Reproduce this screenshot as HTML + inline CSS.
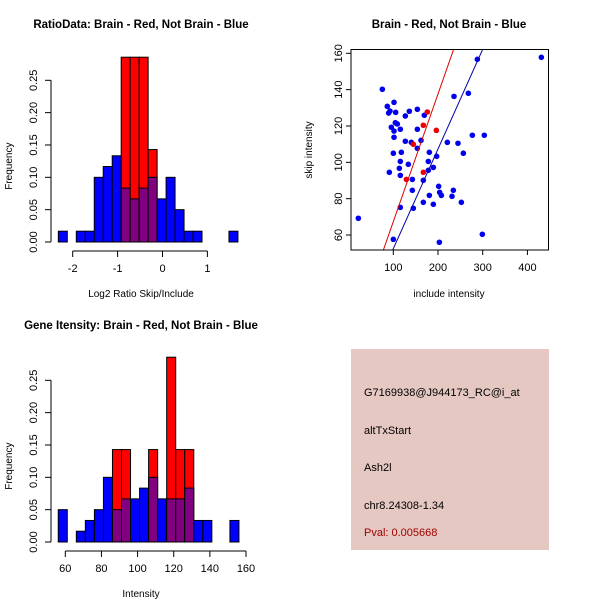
<!DOCTYPE html>
<html><head><meta charset="utf-8"><style>
body{margin:0;background:#fff}
svg{display:block;font-family:"Liberation Sans",sans-serif}
</style></head><body>
<svg id="c" width="600" height="600" viewBox="0 0 600 600">
<rect width="600" height="600" fill="#fff"/>
<g>
<rect x="351" y="349" width="198" height="201" fill="#e6c8c2"/>
<text x="364" y="396" font-size="11" fill="#000">G7169938@J944173_RC@i_at</text>
<text x="364" y="434" font-size="11" fill="#000">altTxStart</text>
<text x="364" y="471" font-size="11" fill="#000">Ash2l</text>
<text x="364" y="509" font-size="11" fill="#000">chr8.24308-1.34</text>
<text x="364" y="536" font-size="11" fill="#a00000">Pval: 0.005668</text>
</g>
</svg>
<script>
// ---- Histogram 1 data ----
const h1Start = -2.32;
const h1Width = 0.2;
const h1Blue = [0.0167,0,0.0167,0.0167,0.1,0.1167,0.1333,0.0833,0.0667,0.0833,0.1,0.0667,0.1,0.05,0.0167,0.0167,0,0,0,0.0167];
const h1Red  = [0,0,0,0,0,0,0,0.2857,0.2857,0.2857,0.1429,0,0,0,0,0,0,0,0,0];
const h1XTicks = [-2,-1,0,1];
const h1YTicks = [0,0.05,0.1,0.15,0.2,0.25];
// ---- Histogram 2 data ----
const h2Start = 56.1;
const h2Width = 5;
const h2Blue = [0.05,0,0.0167,0.0333,0.05,0.1,0.05,0.0667,0.0667,0.0833,0.1,0.0667,0.0667,0.0667,0.0833,0.0333,0.0333,0,0,0.0333];
const h2Red  = [0,0,0,0,0,0,0.1429,0.1429,0,0,0.1429,0,0.2857,0.1429,0.1429,0,0,0,0,0];
const h2XTicks = [60,80,100,120,140,160];
const h2YTicks = [0,0.05,0.1,0.15,0.2,0.25];
// ---- Scatter data ----
const blueX = [21.8,75.5,86.6,89.6,92.6,105.3,101.6,104.5,109,95.6,101.6,101.6,115.7,126.9,135.9,153.8,169.4,153.8,126.9,140.3,162,153.8,100.1,118,115.7,133.6,113.5,91.1,115.7,142.6,167.2,180.6,178.4,178.4,189.6,197,201.5,203.7,207.5,180.6,142.6,167.2,189.6,144.8,115.7,100.1,203,231.3,234.3,252.2,220.9,244.7,256.7,235.8,267.9,276.8,303.6,288,431.2,299.2];
const blueY = [69.2,140.2,130.8,127.1,128.2,127.5,133,121.8,121.1,119.3,117.2,113.8,118.2,125.5,128.1,129.2,125.9,118.2,111.6,111,112.1,107.7,105,105.5,100.5,98.9,96.7,94.5,92.8,90.6,90.1,105.5,100.5,95.6,97.2,103.3,86.8,83.5,81.8,81.8,84.6,78,76.9,74.7,75.2,57.6,56,81.3,84.6,78,111,110.5,105,136.3,138,114.9,114.9,156.7,157.8,60.4];
const redX = [176.1,167.2,196.3,144.8,167.2,129.2];
const redY = [127.7,120.4,117.6,109.9,94.5,90.6];
const redFit = [-2.9,0.7025];
const blueFit = [-2.4,0.5487];
const scXTicks = [100,200,300,400];
const scYTicks = [60,80,100,120,140,160];

const svg = document.getElementById('c');
const NS = 'http://www.w3.org/2000/svg';
function mk(tag, attrs, parent){
  const e = document.createElementNS(NS, tag);
  for (const k in attrs) e.setAttribute(k, attrs[k]);
  (parent||svg).appendChild(e);
  return e;
}

function hist(o){
  const g = mk('g', {});
  
  
  const sx = v => o.x0 + (v - o.xv0) * o.kx;
  const sy = v => o.y0 - v * o.ky;
  for (let i = 0; i < o.blue.length; i++) {
    const a = o.start + i*o.width, b = a + o.width;
    const x1 = sx(a), x2 = sx(b);
    if (o.red[i] > 0) {
      const r = mk('rect', {x:x1, y:sy(o.red[i]), width:x2-x1, height:sy(0)-sy(o.red[i]), fill:'#ff0000', stroke:'#000', 'stroke-width':1}, g);
      
      
    }
    if (o.blue[i] > 0) {
      const col = o.red[i] > 0 ? '#800080' : '#0000ff';
      const r = mk('rect', {x:x1, y:sy(o.blue[i]), width:x2-x1, height:sy(0)-sy(o.blue[i]), fill:col, stroke:'#000', 'stroke-width':1}, g);
      
      
    }
  }
  const yt = o.yTicks;
  mk('line', {x1:o.yAxisX, x2:o.yAxisX, y1:sy(yt[0]), y2:sy(yt[yt.length-1]), stroke:'#000'}, g);
  yt.forEach(t => {
    mk('line', {x1:o.yAxisX-6, x2:o.yAxisX, y1:sy(t), y2:sy(t), stroke:'#000'}, g);
    const tx = mk('text', {x:0, y:0, 'font-size':11, 'text-anchor':'middle', transform:`translate(${o.yAxisX-14},${sy(t)}) rotate(-90)`}, g);
    tx.textContent = t.toFixed(2);
    
    
  });
  const xt = o.xTicks;
  mk('line', {x1:sx(xt[0]), x2:sx(xt[xt.length-1]), y1:o.xAxisY, y2:o.xAxisY, stroke:'#000'}, g);
  xt.forEach(t => {
    mk('line', {x1:sx(t), x2:sx(t), y1:o.xAxisY, y2:o.xAxisY+6, stroke:'#000'}, g);
    const tx = mk('text', {x:sx(t), y:o.xAxisY+21, 'font-size':11, 'text-anchor':'middle'}, g);
    tx.textContent = t;
    
    
  });
  const ttl = mk('text', {x:141, y:o.titleY, 'font-size':11.5, 'font-weight':'bold', 'text-anchor':'middle'}, g);
  ttl.textContent = o.title;
  
  
  const xl = mk('text', {x:141, y:o.xAxisY+46, 'font-size':10, 'text-anchor':'middle'}, g);
  xl.textContent = o.xlab;
  
  
  const yl = mk('text', {x:0, y:0, 'font-size':10, 'text-anchor':'middle', transform:`translate(12,${(sy(0)+sy(0.25))/2+5}) rotate(-90)`}, g);
  yl.textContent = 'Frequency';
  
  
}

hist({name:'ratio-histogram', start:h1Start, width:h1Width, blue:h1Blue, red:h1Red, xTicks:h1XTicks, yTicks:h1YTicks,
  x0:72.7, xv0:-2, kx:44.9, y0:242, ky:646.8, yAxisX:51, xAxisY:251,
  title:'RatioData: Brain - Red, Not Brain - Blue', titleY:28, xlab:'Log2 Ratio Skip/Include'});
hist({name:'intensity-histogram', start:h2Start, width:h2Width, blue:h2Blue, red:h2Red, xTicks:h2XTicks, yTicks:h2YTicks,
  x0:65.3, xv0:60, kx:1.807, y0:542, ky:646.8, yAxisX:51, xAxisY:551,
  title:'Gene Itensity: Brain - Red, Not Brain - Blue', titleY:329, xlab:'Intensity'});

(function(){
  const g = mk('g', {});
  
  
  const L=351, T=49.5, R=548.5, B=250;
  const sx = v => 348.6 + v*0.447;
  const sy = v => 53.3 + (160 - v)*1.817;
  const dom = [(L-348.6)/0.447, (R-348.6)/0.447];
  const clip = mk('clipPath', {id:'scClip'}, g);
  mk('rect', {x:L, y:T, width:R-L, height:B-T}, clip);
  for (let i = 0; i < blueX.length; i++) {
    const c = mk('circle', {cx:sx(blueX[i]), cy:sy(blueY[i]), r:2.8, fill:'#0000ee'}, g);
    
    
  }
  for (let i = 0; i < redX.length; i++) {
    const c = mk('circle', {cx:sx(redX[i]), cy:sy(redY[i]), r:2.8, fill:'#ee0000'}, g);
    
    
  }
  const lr = mk('line', {x1:sx(dom[0]), y1:sy(redFit[0]+redFit[1]*dom[0]), x2:sx(dom[1]), y2:sy(redFit[0]+redFit[1]*dom[1]), stroke:'#dd0000', 'stroke-width':1, 'clip-path':'url(#scClip)'}, g);
  
  
  const lb = mk('line', {x1:sx(dom[0]), y1:sy(blueFit[0]+blueFit[1]*dom[0]), x2:sx(dom[1]), y2:sy(blueFit[0]+blueFit[1]*dom[1]), stroke:'#0000aa', 'stroke-width':1, 'clip-path':'url(#scClip)'}, g);
  
  
  mk('rect', {x:L, y:T, width:R-L, height:B-T, fill:'none', stroke:'#000'}, g);
  scXTicks.forEach(t => {
    mk('line', {x1:sx(t), x2:sx(t), y1:B, y2:B+5, stroke:'#000'}, g);
    const tx = mk('text', {x:sx(t), y:B+21, 'font-size':11, 'text-anchor':'middle'}, g);
    tx.textContent = t;
    
    
  });
  scYTicks.forEach(t => {
    mk('line', {x1:L-5, x2:L, y1:sy(t), y2:sy(t), stroke:'#000'}, g);
    const tx = mk('text', {x:0, y:0, 'font-size':11, 'text-anchor':'middle', transform:`translate(${L-9},${sy(t)}) rotate(-90)`}, g);
    tx.textContent = t;
    
    
  });
  const ttl = mk('text', {x:449, y:28, 'font-size':11.5, 'font-weight':'bold', 'text-anchor':'middle'}, g);
  ttl.textContent = 'Brain - Red, Not Brain - Blue';
  
  
  const xl = mk('text', {x:449, y:297, 'font-size':10, 'text-anchor':'middle'}, g);
  xl.textContent = 'include intensity';
  
  
  const yl = mk('text', {x:0, y:0, 'font-size':10, 'text-anchor':'middle', transform:'translate(312,150) rotate(-90)'}, g);
  yl.textContent = 'skip intensity';
  
  
})();
</script>
</body></html>
